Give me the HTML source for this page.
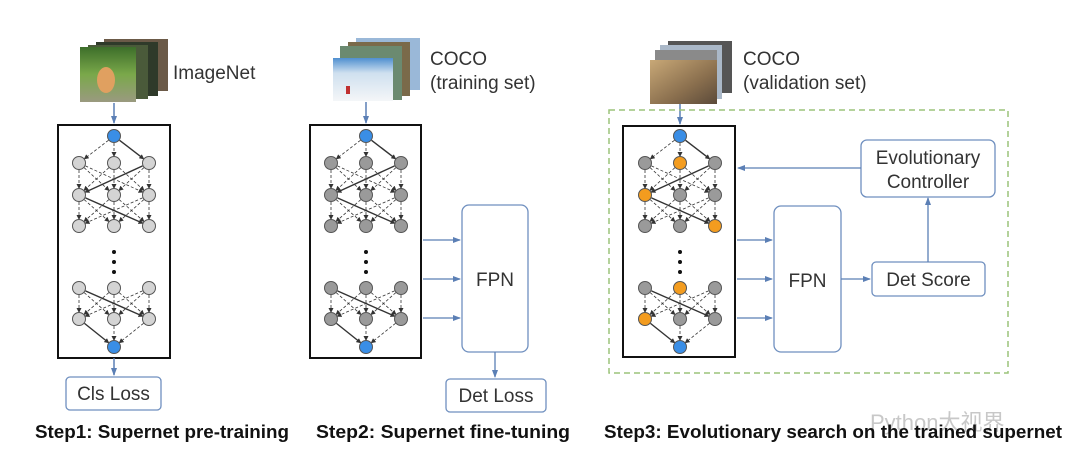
<!DOCTYPE html>
<html><head><meta charset="utf-8"><style>
html,body{margin:0;padding:0;background:#fff;width:1080px;height:468px;overflow:hidden}
svg{display:block}
text{font-family:"Liberation Sans","Noto Sans CJK SC",sans-serif}
</style></head><body>
<svg id="s" width="1080" height="468" viewBox="0 0 1080 468" xmlns="http://www.w3.org/2000/svg">
<defs>
<marker id="a" markerWidth="8" markerHeight="8" refX="7" refY="4" orient="auto" markerUnits="userSpaceOnUse"><path d="M0,1 L8,4 L0,7 Z" fill="#5b7fb5"/></marker>
<marker id="k" markerWidth="5" markerHeight="5" refX="4" refY="2.5" orient="auto" markerUnits="userSpaceOnUse"><path d="M0,0 L5,2.5 L0,5 Z" fill="#333"/></marker>
<linearGradient id="g1" x1="0" y1="0" x2="0" y2="1"><stop offset="0" stop-color="#3d6e2a"/><stop offset=".5" stop-color="#7aa84a"/><stop offset="1" stop-color="#9a9a80"/></linearGradient>
<linearGradient id="g2" x1="0" y1="0" x2="0" y2="1"><stop offset="0" stop-color="#4f8fd0"/><stop offset=".35" stop-color="#cfe0ef"/><stop offset="1" stop-color="#f4f6f8"/></linearGradient>
<linearGradient id="g3" x1="0" y1="0" x2="1" y2="1"><stop offset="0" stop-color="#c8a877"/><stop offset=".6" stop-color="#8a6f4e"/><stop offset="1" stop-color="#5b4a3a"/></linearGradient>
</defs>
<rect x="104" y="39" width="64" height="52" fill="#6b5a48"/>
<rect x="96" y="42" width="62" height="54" fill="#2f3a2a"/>
<rect x="88" y="45" width="60" height="54" fill="#4a5a3a"/>
<rect x="80" y="47" width="56" height="55" fill="url(#g1)"/>
<ellipse cx="106" cy="80" rx="9" ry="13" fill="#e0a060"/>
<rect x="356" y="38" width="64" height="52" fill="#9ab8d8"/>
<rect x="348" y="42" width="62" height="54" fill="#7a6a4a"/>
<rect x="340" y="46" width="62" height="54" fill="#6b8a70"/>
<rect x="333" y="58" width="60" height="43" fill="url(#g2)"/>
<rect x="346" y="86" width="4" height="8" fill="#c03030"/>
<rect x="668" y="41" width="64" height="52" fill="#555"/>
<rect x="660" y="45" width="62" height="54" fill="#aab8c8"/>
<rect x="655" y="50" width="62" height="54" fill="#8a8a8a"/>
<rect x="650" y="60" width="67" height="44" fill="url(#g3)"/>
<text x="173" y="79" font-size="19" fill="#333">ImageNet</text>
<text x="430" y="65" font-size="19" fill="#333">COCO</text>
<text x="430" y="89" font-size="19" fill="#333">(training set)</text>
<text x="743" y="65" font-size="19" fill="#333">COCO</text>
<text x="743" y="89" font-size="19" fill="#333">(validation set)</text>
<line x1="114" y1="103" x2="114" y2="123" stroke="#5b7fb5" stroke-width="1.5" marker-end="url(#a)"/>
<line x1="366" y1="102" x2="366" y2="123" stroke="#5b7fb5" stroke-width="1.5" marker-end="url(#a)"/>
<line x1="680" y1="104" x2="680" y2="124" stroke="#5b7fb5" stroke-width="1.5" marker-end="url(#a)"/>
<rect x="58" y="125" width="112" height="233" fill="none" stroke="#111" stroke-width="2"/>
<rect x="310" y="125" width="111" height="233" fill="none" stroke="#111" stroke-width="2"/>
<rect x="623" y="126" width="112" height="231" fill="none" stroke="#111" stroke-width="2"/>
<g id="nets"></g>
<line x1="114" y1="358" x2="114" y2="375" stroke="#5b7fb5" stroke-width="1.5" marker-end="url(#a)"/>
<rect x="66" y="377" width="95" height="33" rx="4" fill="#fff" stroke="#6f8fbf" stroke-width="1.3"/>
<text x="113.5" y="400" font-size="19" fill="#333" text-anchor="middle">Cls Loss</text>
<rect x="462" y="205" width="66" height="147" rx="7" fill="#fff" stroke="#6f8fbf" stroke-width="1.3"/>
<text x="495" y="286" font-size="19" fill="#333" text-anchor="middle">FPN</text>
<line x1="423" y1="240" x2="460" y2="240" stroke="#5b7fb5" stroke-width="1.3" marker-end="url(#a)"/>
<line x1="423" y1="279" x2="460" y2="279" stroke="#5b7fb5" stroke-width="1.3" marker-end="url(#a)"/>
<line x1="423" y1="318" x2="460" y2="318" stroke="#5b7fb5" stroke-width="1.3" marker-end="url(#a)"/>
<line x1="495" y1="352" x2="495" y2="377" stroke="#5b7fb5" stroke-width="1.3" marker-end="url(#a)"/>
<rect x="446" y="379" width="100" height="33" rx="4" fill="#fff" stroke="#6f8fbf" stroke-width="1.3"/>
<text x="496" y="402" font-size="19" fill="#333" text-anchor="middle">Det Loss</text>
<rect x="609" y="110" width="399" height="263" fill="none" stroke="#9cc47a" stroke-width="1.5" stroke-dasharray="6,4"/>
<rect x="774" y="206" width="67" height="146" rx="7" fill="#fff" stroke="#6f8fbf" stroke-width="1.3"/>
<text x="807.5" y="287" font-size="19" fill="#333" text-anchor="middle">FPN</text>
<line x1="737" y1="240" x2="772" y2="240" stroke="#5b7fb5" stroke-width="1.3" marker-end="url(#a)"/>
<line x1="737" y1="279" x2="772" y2="279" stroke="#5b7fb5" stroke-width="1.3" marker-end="url(#a)"/>
<line x1="737" y1="318" x2="772" y2="318" stroke="#5b7fb5" stroke-width="1.3" marker-end="url(#a)"/>
<line x1="841" y1="279" x2="870" y2="279" stroke="#5b7fb5" stroke-width="1.3" marker-end="url(#a)"/>
<rect x="872" y="262" width="113" height="34" rx="4" fill="#fff" stroke="#6f8fbf" stroke-width="1.3"/>
<text x="928.5" y="286" font-size="19" fill="#333" text-anchor="middle">Det Score</text>
<line x1="928" y1="262" x2="928" y2="198" stroke="#5b7fb5" stroke-width="1.3" marker-end="url(#a)"/>
<rect x="861" y="140" width="134" height="57" rx="6" fill="#fff" stroke="#6f8fbf" stroke-width="1.3"/>
<text x="928" y="164" font-size="19" fill="#333" text-anchor="middle">Evolutionary</text>
<text x="928" y="188" font-size="19" fill="#333" text-anchor="middle">Controller</text>
<line x1="861" y1="168" x2="738" y2="168" stroke="#5b7fb5" stroke-width="1.3" marker-end="url(#a)"/>
<text x="870" y="430" font-size="22" fill="#c8c8c8">Python大视界</text>
<text x="35" y="438" font-size="18.5" font-weight="bold" fill="#111" textLength="254" lengthAdjust="spacingAndGlyphs">Step1: Supernet pre-training</text>
<text x="316" y="438" font-size="18.5" font-weight="bold" fill="#111" textLength="254" lengthAdjust="spacingAndGlyphs">Step2: Supernet fine-tuning</text>
<text x="604" y="438" font-size="18.5" font-weight="bold" fill="#111" textLength="458" lengthAdjust="spacingAndGlyphs">Step3: Evolutionary search on the trained supernet</text>
</svg>
<script>
(function(){
var g=document.getElementById('nets'),h='';
function net(cx,fill,orange){
 var xs=[cx-35,cx,cx+35],ys=[163,195,226],ys2=[288,319],top=136,bot=347;
 function L(x1,y1,x2,y2,b){var dx=x2-x1,dy=y2-y1,d=Math.sqrt(dx*dx+dy*dy),r=7;
  h+='<line x1="'+(x1+dx/d*r)+'" y1="'+(y1+dy/d*r)+'" x2="'+(x2-dx/d*r)+'" y2="'+(y2-dy/d*r)+'" stroke="#333" stroke-width="'+(b?1.4:0.8)+'" '+(b?'':'stroke-dasharray="3,2"')+' marker-end="url(#k)"/>';}
 xs.forEach(function(x,i){L(cx,top,x,ys[0],i==2);L(x,ys2[1],cx,bot,i==0);});
 [[ys[0],ys[1]],[ys[1],ys[2]],[ys2[0],ys2[1]]].forEach(function(p,k){
  xs.forEach(function(a,i){xs.forEach(function(b,j){L(a,p[0],b,p[1],(k==0&&i==2&&j==0)||(k==1&&i==0&&j==2)||(k==2&&i==0&&j==2));});});});
 function C(x,y,f){h+='<circle cx="'+x+'" cy="'+y+'" r="6.5" fill="'+f+'" stroke="#555" stroke-width="1"/>';}
 C(cx,top,'#3a8ee6');C(cx,bot,'#3a8ee6');
 ys.concat(ys2).forEach(function(y,r){xs.forEach(function(x,c){C(x,y,(orange&&orange.indexOf(r*3+c)>=0)?'#f39c1f':fill);});});
 [252,262,272].forEach(function(y){h+='<circle cx="'+cx+'" cy="'+y+'" r="2" fill="#111"/>';});
}
net(114,'#d4d4d4');net(366,'#9a9a9a');net(680,'#9a9a9a',[1,3,8,10,12]);
g.innerHTML=h;
})();
</script>
</body></html>
